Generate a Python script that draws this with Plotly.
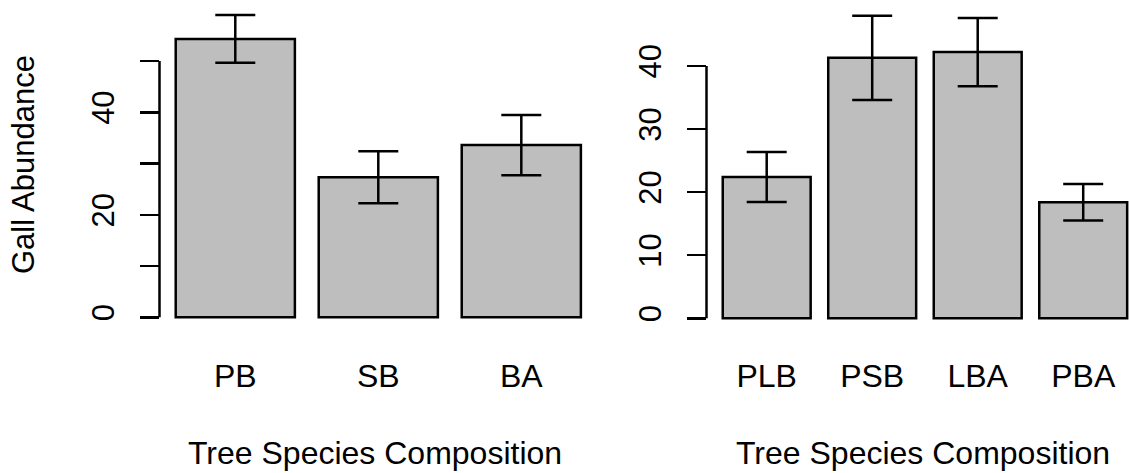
import plotly.graph_objects as go

# ---- data ----
left_categories = ["PB", "SB", "BA"]
left_means = [54.3, 27.3, 33.6]
left_se = [4.65, 5.07, 5.88]

right_categories = ["PLB", "PSB", "LBA", "PBA"]
right_means = [22.4, 41.3, 42.2, 18.4]
right_se = [3.95, 6.68, 5.41, 2.88]

left_yticks = [0, 10, 20, 30, 40, 50]
left_yticklabels = ["0", "", "20", "", "40", ""]
right_yticks = [0, 10, 20, 30, 40]
right_yticklabels = ["0", "10", "20", "30", "40"]

y_title = "Gall Abundance"
x_title = "Tree Species Composition"

# ---- layout geometry (pixels) ----
W, H = 1129, 473
FONT = "Liberation Sans, Arial, sans-serif"
BAR_W = 1 / 1.2          # R barplot: width 1, space 0.2
LW = 2.5
plot_top, plot_bottom = 0, 330
ydom = [1 - plot_bottom / H, 1 - plot_top / H]

fig = go.Figure()

fig.add_trace(go.Bar(
    x=left_categories, y=left_means, width=BAR_W,
    marker=dict(color="#BEBEBE", line=dict(color="black", width=LW)),
    error_y=dict(type="data", array=left_se, visible=True,
                 color="black", thickness=LW, width=20),
    xaxis="x", yaxis="y", showlegend=False, hoverinfo="skip"))

fig.add_trace(go.Bar(
    x=right_categories, y=right_means, width=BAR_W,
    marker=dict(color="#BEBEBE", line=dict(color="black", width=LW)),
    error_y=dict(type="data", array=right_se, visible=True,
                 color="black", thickness=LW, width=20),
    xaxis="x2", yaxis="y2", showlegend=False, hoverinfo="skip"))

xcommon = dict(showgrid=False, zeroline=False, showline=False, ticks="",
               tickfont=dict(family=FONT, size=32, color="black"),
               ticklabelstandoff=24, type="category")
ycommon = dict(showgrid=False, zeroline=False, showline=False,
               ticks="outside", ticklen=19, tickwidth=LW, tickcolor="black",
               tickangle=-90, tickfont=dict(family=FONT, size=31, color="black"),
               ticklabelstandoff=13, tickmode="array")

fig.update_layout(
    width=W, height=H,
    margin=dict(l=0, r=0, t=0, b=0),
    paper_bgcolor="white", plot_bgcolor="white",
    bargap=0,
    xaxis=dict(domain=[159.5 / W, 597.1 / W], range=[-0.530, 2.530],
               anchor="y", **xcommon),
    yaxis=dict(domain=ydom, range=[-2.478, 61.90], anchor="x",
               tickvals=left_yticks, ticktext=left_yticklabels, **ycommon),
    xaxis2=dict(domain=[706.5 / W, 1.0], range=[-0.5706, 3.434],
                anchor="y2", **xcommon),
    yaxis2=dict(domain=ydom, range=[-1.855, 50.46], anchor="x2",
                tickvals=right_yticks, ticktext=right_yticklabels, **ycommon),
    shapes=[
        dict(type="line", xref="x domain", yref="y", x0=0, x1=0,
             y0=left_yticks[0], y1=left_yticks[-1],
             line=dict(color="black", width=LW)),
        dict(type="line", xref="x2 domain", yref="y2", x0=0, x1=0,
             y0=right_yticks[0], y1=right_yticks[-1],
             line=dict(color="black", width=LW)),
    ],
    annotations=[
        dict(text=y_title, xref="paper", yref="paper", x=24 / W, y=1 - 165 / H,
             xanchor="center", yanchor="middle", textangle=-90, showarrow=False,
             font=dict(family=FONT, size=31, color="black")),
        dict(text=x_title, xref="paper", yref="paper", x=375.3 / W, y=1 - 452.5 / H,
             xanchor="center", yanchor="middle", showarrow=False,
             font=dict(family=FONT, size=32, color="black")),
        dict(text=x_title, xref="paper", yref="paper", x=923.3 / W, y=1 - 452.5 / H,
             xanchor="center", yanchor="middle", showarrow=False,
             font=dict(family=FONT, size=32, color="black")),
    ],
)

fig.write_html("out.html",
               config={"displayModeBar": False, "staticPlot": True},
               post_script="document.body.style.margin='0';"
                           "document.body.style.overflow='hidden';")
